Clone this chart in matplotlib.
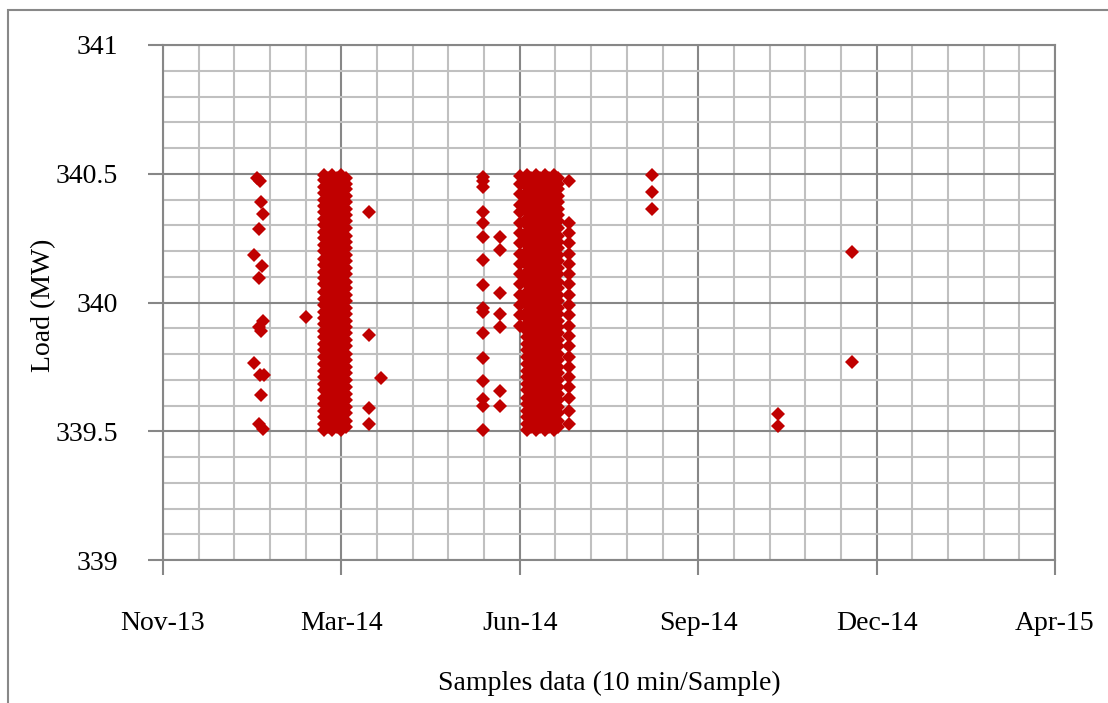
import numpy as np
import matplotlib
matplotlib.use("Agg")
import matplotlib.pyplot as plt
import matplotlib.dates as mdates
import matplotlib.ticker as ticker
from matplotlib.patches import Rectangle

plt.rcParams['font.family'] = ['Liberation Serif', 'DejaVu Serif']

# x values are days after 25-Nov-2013, y values are load in MW
start = np.datetime64('2013-11-25')

# scattered samples (day, load)
sc_days = [52.6, 54.3, 54.9, 56.0, 53.8, 51.0, 55.4, 53.8, 56.0, 53.8, 54.9,
           51.0, 54.3, 56.6, 54.9, 53.8, 56.0,
           80.1,
           115.3, 115.3, 115.3, 115.3, 122.1,
           274.0, 274.0, 274.0,
           345.0, 345.0,
           386.0, 386.0]
sc_load = [340.483, 340.47, 340.39, 340.344, 340.285, 340.184, 340.14, 340.095,
           339.93, 339.905, 339.89, 339.765, 339.72, 339.72, 339.64, 339.53, 339.51,
           339.944,
           340.35, 339.874, 339.59, 339.53, 339.707,
           340.495, 340.43, 340.363,
           339.567, 339.52,
           340.196, 339.769]

# sparse columns before the June block
col1_day = 179.2
col1_load = [340.487, 340.47, 340.45, 340.35, 340.31, 340.254, 340.165, 340.068,
             339.98, 339.963, 339.88, 339.785, 339.695, 339.625, 339.6, 339.505]
col2_day = 188.7
col2_load = [340.254, 340.204, 340.037, 339.955, 339.905, 339.656, 339.6]
col3_day = 199.9
col3_load = [340.49, 340.46, 340.42, 340.38, 340.35, 340.31, 340.27, 340.23,
             340.19, 340.15, 340.11, 340.07, 340.03, 339.99, 339.95, 339.91]

# dense blocks (whole 339.5 - 340.5 band filled)
full_a = [339.505, 339.53, 339.555, 339.58, 339.605, 339.63, 339.66, 339.685,
          339.71, 339.735, 339.76, 339.79, 339.815, 339.84, 339.865, 339.89,
          339.915, 339.94, 339.965, 339.99, 340.015, 340.04, 340.07, 340.095,
          340.12, 340.145, 340.17, 340.2, 340.225, 340.25, 340.275, 340.3,
          340.325, 340.35, 340.375, 340.4, 340.425, 340.45, 340.475, 340.495]
full_b = [339.515, 339.54, 339.57, 339.595, 339.62, 339.645, 339.67, 339.7,
          339.725, 339.75, 339.775, 339.8, 339.83, 339.855, 339.88, 339.905,
          339.93, 339.955, 339.98, 340.005, 340.03, 340.055, 340.08, 340.11,
          340.135, 340.16, 340.185, 340.21, 340.235, 340.26, 340.29, 340.315,
          340.34, 340.365, 340.39, 340.415, 340.44, 340.46, 340.485]
mar_days = [90, 92.5, 95, 97.5, 100, 102.5]
jun_days = [204, 206.5, 209, 211.5, 214, 216.5, 219, 221.5]

# right edge of the June block
jun_edge_day = 227.5
jun_edge_load = [340.47, 340.31, 340.27, 340.23, 340.19, 340.15, 340.11, 340.07,
                 340.03, 339.99, 339.95, 339.91, 339.87, 339.83, 339.79, 339.75,
                 339.71, 339.67, 339.63, 339.58, 339.53]

# collect everything
days = list(sc_days)
load = list(sc_load)
for d, ys in [(col1_day, col1_load), (col2_day, col2_load), (col3_day, col3_load),
              (jun_edge_day, jun_edge_load)]:
    days += [d] * len(ys)
    load += ys
for i, d in enumerate(mar_days + jun_days):
    ys = full_a if i % 2 == 0 else full_b
    days += [d] * len(ys)
    load += ys

x = start + np.round(np.array(days) * 24).astype('timedelta64[h]')

fig = plt.figure(figsize=(11.08, 7.03), dpi=100)
ax = fig.add_axes([163/1108, 1-560/703, 892/1108, 515/703])

ax.plot(x, load, linestyle='none', marker='D', markersize=7.3,
        color='#c00000', markeredgewidth=0, zorder=3)

x0 = mdates.date2num(start)
ax.set_xlim(x0, x0 + 500)
ax.set_ylim(339, 341)
ax.xaxis.set_major_locator(ticker.FixedLocator(x0 + np.arange(0, 501, 100)))
ax.xaxis.set_minor_locator(ticker.FixedLocator(x0 + np.arange(0, 501, 20)))
ax.xaxis.set_major_formatter(mdates.DateFormatter('%b-%y'))
ax.yaxis.set_major_locator(ticker.MultipleLocator(0.5))
ax.yaxis.set_minor_locator(ticker.MultipleLocator(0.1))
ax.yaxis.set_major_formatter(ticker.FuncFormatter(lambda v, p: '{:g}'.format(v)))

major_c = '#878787'
minor_c = '#c0c0c0'
ax.grid(which='minor', color=minor_c, linewidth=1.5, zorder=0)
ax.grid(which='major', color=major_c, linewidth=1.5, zorder=1)
ax.set_axisbelow(True)
for s in ax.spines.values():
    s.set_color(major_c)
    s.set_linewidth(1.5)

ax.tick_params(which='major', direction='out', length=10.5, width=1.5,
               color=major_c, labelsize=20, labelcolor='black')
ax.tick_params(axis='y', which='major', pad=22)
ax.tick_params(axis='x', which='major', pad=26)
ax.tick_params(which='minor', length=0)

fig.text(609/1108, 1-683/703, 'Samples data (10 min/Sample)', fontsize=20,
         ha='center', va='center')
fig.text(44/1108, 1-305/703, 'Load (MW)', fontsize=20, rotation=90,
         ha='center', va='center')

fig.patches.append(Rectangle((8/1108, -0.05), 1.0, 1-10/703+0.05,
                             transform=fig.transFigure, fill=False,
                             edgecolor='#888888', linewidth=1.5))

fig.savefig('out.png', dpi=100)
